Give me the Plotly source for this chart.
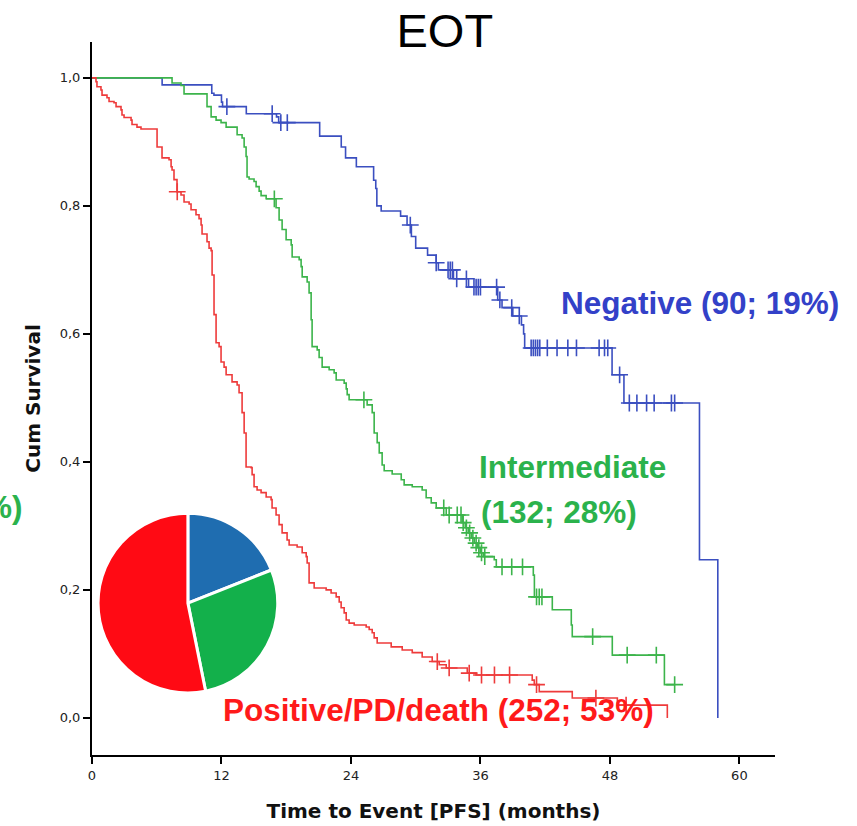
import numpy as np
import plotly.graph_objects as go

# ---- Kaplan-Meier data (months, cumulative survival after each event) ----
neg_times = [6.5, 11.1, 11.3, 12.0, 12.1, 14.3, 17.1, 17.3, 21.1, 23.1, 23.5, 24.5,
             26.1, 26.3, 26.4, 26.8, 28.6, 29.2, 29.6, 30.0, 31.1, 31.9, 32.1, 33.5,
             34.9, 37.6, 38.0, 39.0, 39.8, 40.0, 40.1, 48.2, 49.3, 56.3, 58.0]
neg_surv = [0.989, 0.976, 0.973, 0.962, 0.955, 0.944, 0.939, 0.930, 0.909, 0.892, 0.875, 0.861,
            0.840, 0.827, 0.800, 0.792, 0.784, 0.770, 0.752, 0.734, 0.723, 0.711, 0.700, 0.686,
            0.673, 0.653, 0.641, 0.628, 0.614, 0.600, 0.578, 0.536, 0.492, 0.247, 0.0]
neg_censored = [12.5, 16.7, 17.5, 18.1, 29.5, 31.9, 33.0, 33.2, 33.4, 33.8, 34.7, 35.4, 35.6,
                35.8, 36.0, 37.5, 37.8, 38.9, 39.6, 40.7, 40.9, 41.1, 41.3, 41.5, 42.2,
                43.1, 44.1, 44.9, 47.0, 47.5, 47.8, 48.9, 49.8, 50.5, 51.4, 52.1, 53.7, 54.0]
neg_end = 58.0

int_times = [7.42, 8.25, 8.53, 10.66, 11.04, 11.50, 11.96, 12.43, 13.45, 13.91, 14.10, 14.28,
             14.37, 14.56, 15.02, 15.21, 15.49, 15.67, 16.14, 17.06, 17.34, 17.62, 17.99, 18.46,
             18.55, 19.20, 19.38, 19.48, 19.94, 20.12, 20.31, 20.40, 20.87, 21.05, 21.33, 21.98,
             22.44, 22.63, 23.37, 23.56, 23.65, 23.83, 25.50, 25.97, 26.15, 26.43, 26.62, 26.89,
             27.08, 27.82, 28.66, 28.93, 29.68, 30.60, 30.97, 31.44, 31.90, 32.83, 34.31, 34.59,
             34.87, 35.15, 35.43, 35.70, 35.98, 36.26, 37.28, 37.47, 40.90, 41.00, 42.66, 44.42,
             44.51, 48.22, 53.05]
int_surv = [0.992, 0.988, 0.975, 0.955, 0.939, 0.934, 0.930, 0.923, 0.911, 0.906, 0.892, 0.877,
            0.845, 0.842, 0.838, 0.830, 0.823, 0.816, 0.811, 0.797, 0.778, 0.763, 0.747, 0.739,
            0.720, 0.716, 0.705, 0.689, 0.681, 0.664, 0.622, 0.580, 0.575, 0.563, 0.548, 0.544,
            0.539, 0.528, 0.523, 0.514, 0.505, 0.497, 0.489, 0.477, 0.445, 0.430, 0.414, 0.395,
            0.386, 0.381, 0.372, 0.364, 0.361, 0.356, 0.344, 0.336, 0.328, 0.317, 0.305, 0.297,
            0.289, 0.281, 0.273, 0.266, 0.258, 0.252, 0.247, 0.236, 0.223, 0.189, 0.169, 0.145,
            0.127, 0.098, 0.052]
int_censored = [16.9, 25.2, 32.6, 33.1, 33.85, 34.2, 34.4, 34.7, 35.0, 35.3, 35.6, 35.85, 36.1,
                36.4, 38.0, 38.9, 39.9, 41.2, 41.45, 41.7, 46.4, 49.6, 52.3, 54.0]
int_end = 54.0

pos_times = [0.37, 0.46, 0.83, 0.93, 1.39, 1.58, 2.04, 2.23, 2.69, 2.78, 2.97, 3.62, 3.71, 4.17,
             4.54, 6.03, 6.49, 7.14, 7.33, 7.42, 7.60, 7.88, 8.25, 8.53, 9.00, 9.18, 9.64, 9.92,
             10.11, 10.20, 10.66, 10.85, 11.04, 11.13, 11.31, 11.50, 11.78, 11.96, 12.24, 12.43,
             12.98, 13.45, 13.63, 13.91, 14.10, 14.28, 14.75, 14.84, 15.02, 15.30, 15.67, 16.14,
             16.60, 16.69, 17.06, 17.34, 17.62, 18.08, 18.27, 19.01, 19.48, 19.85, 19.94, 20.12,
             20.59, 21.70, 22.16, 22.63, 22.91, 23.09, 23.37, 23.56, 23.83, 24.30, 25.41, 25.69,
             25.97, 26.15, 26.43, 27.73, 28.75, 29.68, 30.60, 31.53, 32.18, 32.83, 34.78, 35.60,
             40.80, 40.99, 41.45, 44.51, 48.69, 53.32]
pos_surv = [0.994, 0.986, 0.981, 0.973, 0.969, 0.963, 0.961, 0.955, 0.950, 0.942, 0.938, 0.934,
            0.927, 0.923, 0.920, 0.892, 0.875, 0.872, 0.861, 0.856, 0.841, 0.822, 0.817, 0.806,
            0.803, 0.794, 0.786, 0.780, 0.770, 0.756, 0.744, 0.734, 0.730, 0.692, 0.630, 0.586,
            0.580, 0.556, 0.548, 0.536, 0.525, 0.520, 0.508, 0.477, 0.445, 0.392, 0.391, 0.380,
            0.361, 0.356, 0.352, 0.345, 0.341, 0.328, 0.317, 0.302, 0.289, 0.278, 0.270, 0.267,
            0.258, 0.252, 0.242, 0.211, 0.203, 0.200, 0.195, 0.189, 0.181, 0.172, 0.164, 0.153,
            0.148, 0.145, 0.142, 0.138, 0.133, 0.125, 0.117, 0.111, 0.106, 0.102, 0.095, 0.088,
            0.083, 0.078, 0.070, 0.067, 0.059, 0.052, 0.041, 0.031, 0.020, 0.0]
pos_censored = [7.9, 32.0, 33.1, 34.96, 36.1, 37.3, 38.7, 41.2, 46.7, 49.5]
pos_end = 53.32

group_names = ["Negative", "Intermediate", "Positive/PD/death"]
group_counts = [90, 132, 252]

x_ticks = [0, 12, 24, 36, 48, 60]
y_ticks = [0.0, 0.2, 0.4, 0.6, 0.8, 1.0]

LINE_COLORS = ["#3b4fc0", "#3cb44b", "#ee3b3b"]
TEXT_COLORS = ["#3341c8", "#2bb24c", "#ff1a1a"]
PIE_COLORS = ["#1f6db0", "#13b04b", "#ff0a14"]

LABEL_FONT = "Liberation Sans, Arial, sans-serif"
AXIS_FONT = "DejaVu Sans, Verdana, sans-serif"


def survival_at(times, surv, t):
    """Right-continuous step value of a KM curve at time t."""
    idx = np.searchsorted(np.asarray(times), t, side="right") - 1
    return 1.0 if idx < 0 else surv[idx]


fig = go.Figure()

curves = [
    (neg_times, neg_surv, neg_censored, neg_end),
    (int_times, int_surv, int_censored, int_end),
    (pos_times, pos_surv, pos_censored, pos_end),
]

for (times, surv, cens, end), col in zip(curves, LINE_COLORS):
    xs = [0.0] + list(times)
    ys = [1.0] + list(surv)
    if end > xs[-1]:
        xs.append(end)
        ys.append(ys[-1])
    fig.add_trace(go.Scatter(
        x=xs, y=ys, mode="lines", line=dict(color=col, width=1.6, shape="hv"),
        hoverinfo="skip", showlegend=False,
    ))
    fig.add_trace(go.Scatter(
        x=cens, y=[survival_at(times, surv, c) for c in cens], mode="markers",
        marker=dict(symbol="cross-thin", size=12, line=dict(color=col, width=1.6)),
        hoverinfo="skip", showlegend=False,
    ))

# Distribution pie
fig.add_trace(go.Pie(
    values=group_counts, labels=group_names, sort=False, direction="clockwise",
    rotation=0, textinfo="none", hoverinfo="skip", showlegend=False,
    marker=dict(colors=PIE_COLORS, line=dict(color="white", width=3)),
    domain=dict(x=[0.0088, 0.272], y=[0.087, 0.339]),
))

total = sum(group_counts)
labels = [f"{n} ({c}; {round(100 * c / total)}%)" for n, c in zip(group_names, group_counts)]

bold = dict(family=LABEL_FONT, size=31.5)
fig.add_annotation(text=f"<b>{labels[0]}</b>", x=0.890, y=0.634, xref="paper", yref="paper",
                   xanchor="center", showarrow=False, font=dict(**bold, color=TEXT_COLORS[0]))
name1, rest1 = labels[1].split(" ", 1)
fig.add_annotation(text=f"<b>{name1}</b>", x=0.563, y=0.404, xref="paper", yref="paper",
                   xanchor="left", showarrow=False, font=dict(**bold, color=TEXT_COLORS[1]))
fig.add_annotation(text=f"<b>{rest1}</b>", x=0.566, y=0.341, xref="paper", yref="paper",
                   xanchor="left", showarrow=False, font=dict(**bold, color=TEXT_COLORS[1]))
fig.add_annotation(text="<b>%)</b>", x=-0.098, y=0.348, xref="paper", yref="paper",
                   xanchor="right", showarrow=False, font=dict(**bold, color=TEXT_COLORS[1]))
fig.add_annotation(text=f"<b>{labels[2]}</b>", x=0.507, y=0.035, xref="paper", yref="paper",
                   xanchor="center", showarrow=False, font=dict(**bold, color=TEXT_COLORS[2]))

fig.update_layout(
    width=857, height=826,
    margin=dict(l=92, r=82, t=42, b=71, autoexpand=False),
    paper_bgcolor="white", plot_bgcolor="white",
    separators=",.",
    font=dict(family=LABEL_FONT, color="#222222"),
    title=dict(text="EOT", x=0.519, xanchor="center", y=0.963, yanchor="middle",
               font=dict(size=47, color="black")),
    showlegend=False,
)

fig.update_xaxes(
    range=[0, 63.3], tickvals=x_ticks, tickformat="d", automargin=False,
    showline=True, linecolor="black", linewidth=2, ticks="outside", ticklen=7,
    tickwidth=1.5, tickcolor="black", showgrid=False, zeroline=False,
    tickfont=dict(family=AXIS_FONT, size=13, color="#222222"),
    title=dict(text="<b>Time to Event [PFS] (months)</b>",
               font=dict(family=AXIS_FONT, size=20, color="#111111"), standoff=22),
)
fig.update_yaxes(
    range=[-0.058, 1.056], tickvals=y_ticks, tickformat=".1f", automargin=False,
    showline=True, linecolor="black", linewidth=2, ticks="outside", ticklen=7,
    tickwidth=1.5, tickcolor="black", showgrid=False, zeroline=False,
    tickfont=dict(family=AXIS_FONT, size=13, color="#222222"),
    title=dict(text="<b>Cum Survival</b>",
               font=dict(family=AXIS_FONT, size=20, color="#111111"), standoff=14),
)

fig.write_html("out.html")
